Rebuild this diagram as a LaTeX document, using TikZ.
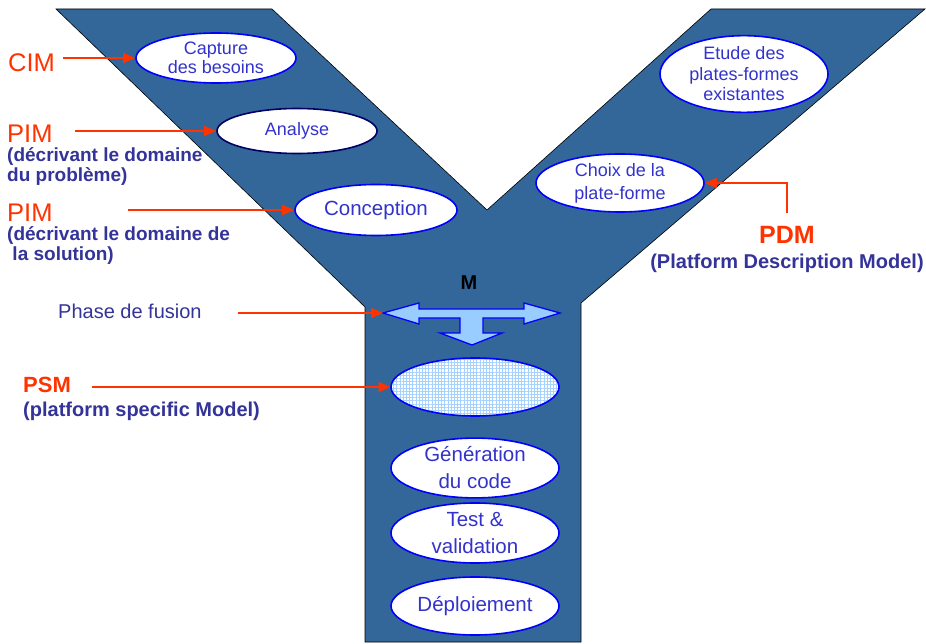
\documentclass[tikz,border=0pt]{standalone}
\usepackage{fontspec}
\setmainfont{Liberation Sans}
\usepackage{xcolor}
\usepackage{tikz}
\usetikzlibrary{shapes.geometric}
\usetikzlibrary{arrows.meta}
\usetikzlibrary{patterns.meta}

\definecolor{ybleu}{HTML}{336699}
\definecolor{rouge}{HTML}{FF3300}
\definecolor{texte}{HTML}{3333CC}
\definecolor{marine}{HTML}{333399}
\definecolor{nuit}{HTML}{000066}
\definecolor{clair}{HTML}{99CCFF}
\definecolor{quadrille}{HTML}{A6D2FF}
\newcommand{\taille}[2]{\fontsize{#1}{#2}\selectfont}

\begin{document}
\begin{tikzpicture}[x=1pt, y=-1pt,
	phase/.style={ellipse, draw=blue, line width=1.6, fill=white, inner sep=0, text=texte, align=center},
	fleche/.style={draw=rouge, line width=1.8, -{Triangle[length=12pt, width=10pt]}},
	etiq/.style={anchor=base west, inner sep=0},
	modele/.style={text=rouge, font=\taille{25.5}{28}},
	note/.style={text=marine, font=\bfseries\taille{19}{21}}]
	\useasboundingbox (0,0) rectangle (926,644);
	\draw[fill=ybleu, line width=0.6] (56,9) -- (272,9) -- (487,210) -- (711,9) -- (925,9) -- (581,303) -- (581,642) -- (365,642) -- (365,307) -- cycle;
	\node[phase, font=\taille{18}{19}, minimum width=160pt, minimum height=50pt] (capture) at (216,58) {Capture\\des besoins};
	\node[phase, draw=nuit, font=\taille{18}{20}, minimum width=160pt, minimum height=45pt] (analyse) at (297,131) {Analyse};
	\node[phase, font=\taille{20.5}{22}, minimum width=162pt, minimum height=51pt] (conception) at (376,210) {Conception};
	\node[phase, font=\taille{18}{20.5}, minimum width=168pt, minimum height=74pt] (etude) at (744,74) {Etude des\\plates-formes\\existantes};
	\node[phase, font=\taille{18}{23}, minimum width=168pt, minimum height=58pt] (choix) at (620,183) {Choix de la\\plate-forme};
	\foreach \n/\y/\h/\t in {gen/468/56/{Génération\\du code}, test/533/60/{Test \&\\validation}, depl/606/58/{Déploiement}}
		\node[phase, font=\taille{20.5}{27}, minimum width=168pt, minimum height=\h pt] (\n) at (475,\y) {\t};
	\node[ellipse, draw=blue, line width=1.6, preaction={fill=white}, pattern={Hatch[angle=0, distance=3.2pt, line width=0.9pt]}, pattern color=quadrille, inner sep=0, minimum width=168pt, minimum height=58pt] (psmell) at (475,387) {};
	\draw[fill=clair, draw=blue, line width=1.3] (383,313) -- (419,303) -- (419,309) -- (524,309) -- (524,303) -- (560,313) -- (524,324) -- (524,318) -- (483,318) -- (483,333) -- (502,333) -- (472,345) -- (440,333) -- (460,333) -- (460,318) -- (419,318) -- (419,324) -- cycle;
	\coordinate (fusG) at (383,313);
	\node[font=\bfseries\taille{20}{20}] (m) at (469,283) {M};
	\node[etiq, modele] (cim) at (8,72) {CIM};
	\node[etiq, modele] (pimA) at (7,143) {PIM};
	\node[etiq, note] (pimA1) at (7,162) {(décrivant le domaine};
	\node[etiq, note] (pimA2) at (7,182) {du problème)};
	\node[etiq, modele] (pimB) at (7,222) {PIM};
	\node[etiq, note] (pimB1) at (7,241) {(décrivant le domaine de};
	\node[etiq, note] (pimB2) at (7,261) {\ la solution)};
	\node[etiq, text=marine, font=\taille{20}{22}] (fusion) at (58,318) {Phase de fusion};
	\node[etiq, text=rouge, font=\bfseries\taille{22}{24}] (psm) at (23,392) {PSM};
	\node[etiq, text=marine, font=\bfseries\taille{20}{22}] (psm1) at (23,416) {(platform specific Model)};
	\node[anchor=base, inner sep=0, text=rouge, font=\bfseries\taille{25}{27}] (pdm) at (787,244) {PDM};
	\node[anchor=base, inner sep=0, text=marine, font=\bfseries\taille{20}{22}] (pdm1) at (787,269) {(Platform Description Model)};
	\coordinate (cimD) at (63,58);
	\coordinate (pimAD) at (75,131);
	\coordinate (pimBD) at (128,210);
	\coordinate (fusionD) at (238,313);
	\coordinate (psmD) at (92,387);
	\coordinate (pdmD) at (787,213);
	\foreach \a/\b in {cimD/capture, pimAD/analyse, pimBD/conception, psmD/psmell}
		\draw[fleche] (\a) -- (\b.west);
	\draw[fleche] (fusionD) -- (fusG);
	\draw[fleche] (pdmD) |- (choix.east);
\end{tikzpicture}
\end{document}
